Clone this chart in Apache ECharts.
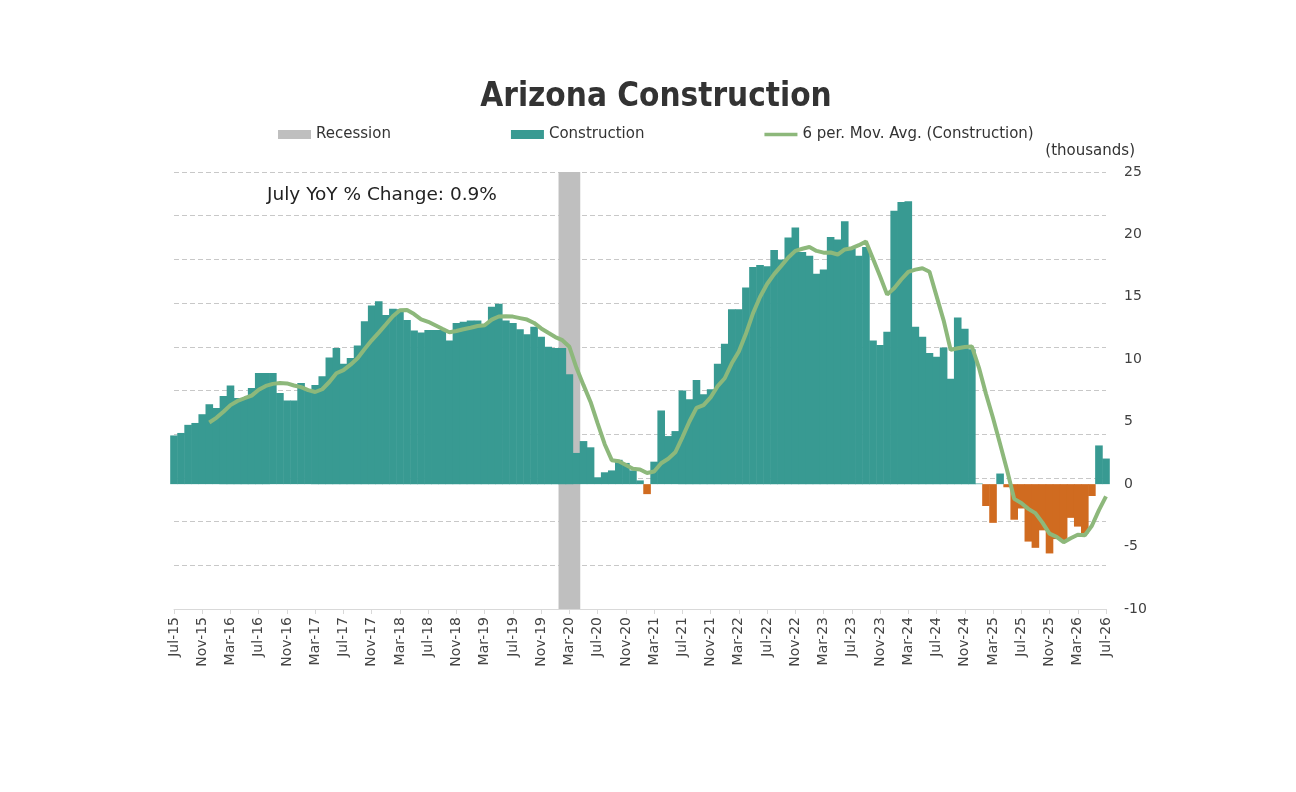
<!DOCTYPE html>
<html>
<head>
<meta charset="utf-8">
<title>Arizona Construction</title>
<script src="https://cdn.jsdelivr.net/npm/echarts@6/dist/echarts.min.js"></script>
<style>
  html, body { margin: 0; padding: 0; background: #fff; }
  #chart { width: 1296px; height: 792px; }
</style>
</head>
<body>
<div id="chart"></div>
<script>
// monthly categories Jul-15 .. Jul-26
var monthNames = ['Jan', 'Feb', 'Mar', 'Apr', 'May', 'Jun', 'Jul', 'Aug', 'Sep', 'Oct', 'Nov', 'Dec'];
var categories = [];
for (var k = 0; k < 133; k++) {
  var m = (6 + k) % 12;
  var yr = 15 + Math.floor((6 + k) / 12);
  categories.push(monthNames[m] + '-' + yr);
}

// YoY change, thousands of jobs
var construction = [
  3.9, 4.1, 4.75, 4.9, 5.6, 6.4, 6.1, 7.05, 7.9, 6.9,
  6.9, 7.7, 8.9, 8.9, 8.9, 7.3, 6.7, 6.7, 8.1, 7.5,
  7.95, 8.65, 10.15, 10.9, 9.65, 10.1, 11.1, 13.05, 14.3, 14.65,
  13.55, 14.05, 14.0, 13.15, 12.3, 12.15, 12.35, 12.35, 12.35, 11.5,
  12.9, 13.0, 13.1, 13.1, 12.75, 14.2, 14.45, 13.1, 12.9, 12.4,
  12.0, 12.6, 11.8, 11.0, 10.9, 10.9, 8.8, 2.5, 3.45, 2.95,
  0.55, 0.95, 1.1, 1.95, 1.7, 1.1, 0.3, -0.8, 1.8, 5.9,
  3.85, 4.25, 7.5, 6.8, 8.35, 7.2, 7.6, 9.65, 11.25, 14.0,
  14.0, 15.75, 17.4, 17.55, 17.45, 18.75, 18.0, 19.75, 20.55, 18.6,
  18.3, 16.85, 17.2, 19.8, 19.6, 21.05, 18.9, 18.3, 19.0, 11.5,
  11.15, 12.2, 21.9, 22.6, 22.65, 12.6, 11.8, 10.5, 10.2, 10.95,
  8.45, 13.35, 12.45, 10.8, 0.05, -1.75, -3.1, 0.85, -0.25, -2.85,
  -1.95, -4.6, -5.1, -3.7, -5.55, -4.4, -4.55, -2.7, -3.4, -3.95,
  -0.95, 3.1, 2.05
];

// 6 per. moving average line as drawn
var movingAvg = [
  null, null, null, null, null, 4.94, 5.31, 5.80, 6.33, 6.66,
  6.88, 7.09, 7.56, 7.87, 8.03, 8.10, 8.07, 7.90, 7.77, 7.53,
  7.38, 7.60, 8.18, 8.88, 9.13, 9.57, 10.09, 10.83, 11.52, 12.14,
  12.79, 13.45, 13.93, 13.95, 13.62, 13.20, 13.00, 12.72, 12.44, 12.17,
  12.27, 12.41, 12.53, 12.66, 12.73, 13.18, 13.43, 13.45, 13.42, 13.30,
  13.18, 12.91, 12.47, 12.12, 11.78, 11.53, 11.00, 9.32, 7.93, 6.58,
  4.86, 3.20, 1.92, 1.83, 1.53, 1.23, 1.18, 0.89, 1.01, 1.67,
  2.03, 2.55, 3.75, 5.02, 6.11, 6.33, 6.95, 7.85, 8.48, 9.68,
  10.62, 12.04, 13.68, 14.99, 16.03, 16.82, 17.48, 18.15, 18.68, 18.85,
  18.99, 18.68, 18.54, 18.55, 18.39, 18.80, 18.90, 19.14, 19.44, 18.06,
  16.65, 15.18, 15.68, 16.39, 17.00, 17.18, 17.29, 17.01, 15.06, 13.12,
  10.75, 10.88, 10.98, 11.03, 9.34, 7.23, 5.30, 3.22, 1.10, -1.18,
  -1.51, -1.98, -2.32, -3.08, -3.96, -4.22, -4.65, -4.33, -4.05, -4.09,
  -3.33, -2.08, -0.98
];

var recessionMonths = ['Feb-20', 'Mar-20', 'Apr-20'];
var yTicks = { min: -10, max: 25, step: 5 };

var TEAL = '#389a92';
var ORANGE = '#d06b20';
var GREEN = '#8db87b';
var GREY = '#bfbfbf';
var FONT = 'DejaVu Sans';

var chart = echarts.init(document.getElementById('chart'));

var barData = construction.map(function (v) {
  return v < 0 ? { value: v, itemStyle: { color: ORANGE } } : v;
});
var recessionData = categories.map(function (c) {
  return recessionMonths.indexOf(c) >= 0 ? 10 : null;
});

var option = {
  backgroundColor: '#fff',
  animation: false,
  textStyle: { fontFamily: FONT },
  grid: { left: 174, right: 190, top: 172, bottom: 183, containLabel: false, outerBoundsMode: 'none' },
  legend: {
    left: 273,
    top: 122,
    itemWidth: 33,
    itemHeight: 9,
    itemGap: 120,
    textStyle: { fontSize: 15, color: '#333', fontFamily: FONT },
    data: [
      { name: 'Recession', icon: 'rect' },
      { name: 'Construction', icon: 'rect' },
      { name: '6 per. Mov. Avg. (Construction)', icon: 'path://M0,0 L10,0 L10,1.1 L0,1.1 Z' }
    ]
  },
  graphic: [
    {
      type: 'text', x: 656, y: 97,
      style: {
        text: 'Arizona Construction', fill: '#333',
        font: 'bold 33px "DejaVu Sans Condensed", "DejaVu Sans"',
        textAlign: 'center', textVerticalAlign: 'middle'
      }
    },
    {
      type: 'text', x: 1135, y: 151,
      style: {
        text: '(thousands)', fill: '#333', font: '15px "DejaVu Sans"',
        textAlign: 'right', textVerticalAlign: 'middle'
      }
    },
    {
      type: 'text', x: 267, y: 195,
      style: {
        text: 'July YoY % Change: 0.9%', fill: '#222', font: '18.5px "DejaVu Sans"',
        textAlign: 'left', textVerticalAlign: 'middle'
      }
    }
  ],
  xAxis: {
    type: 'category',
    data: categories,
    boundaryGap: false,
    axisLine: { onZero: false, lineStyle: { color: '#d9d9d9', width: 1 } },
    axisTick: { interval: 3, length: 5, lineStyle: { color: '#d9d9d9' } },
    axisLabel: { interval: 3, rotate: 90, margin: 8, fontSize: 14, color: '#444', fontFamily: FONT },
    splitLine: { show: false }
  },
  yAxis: [
    {
      type: 'value',
      position: 'right',
      min: yTicks.min,
      max: yTicks.max,
      interval: yTicks.step,
      axisLine: { show: false },
      axisTick: { show: false },
      axisLabel: { margin: 18, fontSize: 14, color: '#404040', align: 'left', fontFamily: FONT },
      splitLine: { show: false }
    },
    {
      type: 'value',
      position: 'left',
      min: 0,
      max: 10,
      interval: 1,
      axisLine: { show: false },
      axisTick: { show: false },
      axisLabel: { show: false },
      splitLine: { show: true, lineStyle: { color: '#c8c8c8', type: [5, 3], width: 1 } }
    }
  ],
  series: [
    {
      name: 'Recession',
      type: 'bar',
      yAxisIndex: 1,
      data: recessionData,
      itemStyle: { color: GREY },
      barWidth: 7.6,
      barGap: '-100%',
      clip: true,
      z: 1
    },
    {
      name: 'Construction',
      type: 'bar',
      yAxisIndex: 0,
      data: barData,
      itemStyle: { color: TEAL },
      barWidth: 7.6,
      barGap: '-100%',
      clip: true,
      z: 2
    },
    {
      name: '6 per. Mov. Avg. (Construction)',
      type: 'line',
      yAxisIndex: 0,
      data: movingAvg,
      symbol: 'none',
      showSymbol: false,
      connectNulls: false,
      lineStyle: { color: GREEN, width: 4 },
      itemStyle: { color: GREEN },
      z: 3
    }
  ]
};

chart.setOption(option);
window.onresize = function () {
  chart.resize();
};
</script>
</body>
</html>
